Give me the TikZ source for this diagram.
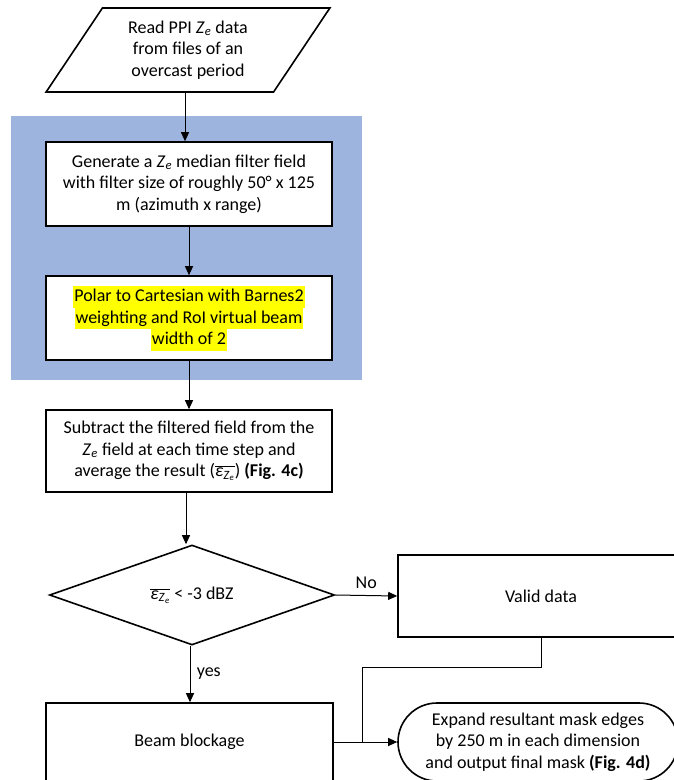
\documentclass[tikz,border=0pt]{standalone}
\usepackage{fontspec}
\setmainfont{Carlito}
\usetikzlibrary{shapes.geometric,shapes.misc,arrows.meta}
\definecolor{bandblue}{RGB}{157,180,223}
\definecolor{hly}{RGB}{255,255,0}
\newcommand{\Zsub}{\textit{Z}\textsubscript{\textit{e}}}
\newcommand{\epsbar}{$\overline{\mbox{\textit{ε}\textsubscript{\textit{Z}\textsubscript{\kern0pt\textit{e}}}}}$}
\begin{document}
\begin{tikzpicture}[x=1pt,y=-1pt,
  font=\fontsize{18}{21.5}\selectfont,
  box/.style={draw=black,line width=1.6pt,fill=white,minimum width=286pt,minimum height=84pt,align=center,inner sep=0pt},
  arr/.style={line width=1pt,-{Triangle[width=8pt,length=9pt]}},
  link/.style={line width=1pt},
  hlline/.style={fill=hly,inner xsep=1pt,inner ysep=0pt,text height=15.5pt,text depth=6pt}
]
\useasboundingbox (0,0) rectangle (674,780);
\clip (0,0) rectangle (674,780);
\node[fill=bandblue,minimum width=351pt,minimum height=264pt,inner sep=0pt] (band) at (186.5,248) {};
\node[trapezium,draw=black,line width=1.6pt,trapezium stretches=true,minimum width=284pt,minimum height=84pt,trapezium left angle=56,trapezium right angle=124,align=center,inner sep=0pt] (read) at (188,50) {Read PPI \Zsub{} data\\from files of an\\overcast period};
\node[box] (filt) at (189,184) {Generate a \Zsub{} median filter field\\with filter size of roughly 50° x 125\\m (azimuth x range)};
\node[box] (polar) at (189,318) {};
\node[hlline] (p1) at (189,297) {Polar to Cartesian with Barnes2};
\node[hlline] (p2) at (189,318.5) {weighting and RoI virtual beam};
\node[hlline] (p3) at (189,340) {width of 2};
\node[box,minimum height=82pt] (sub) at (189,451) {Subtract the filtered field from the\\\Zsub{} field at each time step and\\average the result (\epsbar) \textbf{(Fig. 4c)}};
\node[diamond,draw=black,line width=1.6pt,aspect=2.85,inner sep=0pt,minimum width=285pt,minimum height=100pt] (dec) at (192,595) {\epsbar{} < -3 dBZ};
\node[box,minimum height=82pt] (valid) at (541,596) {Valid data};
\node[box,minimum width=287pt,minimum height=78pt] (bb) at (189.5,742) {Beam blockage};
\node[rounded rectangle,draw=black,line width=1.6pt,minimum width=280pt,minimum height=78pt,align=center,inner sep=0pt] (term) at (538,742) {Expand resultant mask edges\\by 250 m in each dimension\\and output final mask \textbf{(Fig. 4d)}};
\draw[arr] (read.south -| 185,0) -- (filt.north -| 185,0);
\draw[arr] (filt) -- (polar);
\draw[arr] (polar.south) -- (polar.south |- sub.north);
\draw[arr] (sub.south -| 186,0) -- (dec.north -| 186,0);
\draw[arr] (dec.east) -- node[above=3pt] (nolab) {No} (valid.west);
\draw[arr] (dec.south -| 190,0) -- node[right=3pt] (yeslab) {yes} (bb.north -| 190,0);
\coordinate (j1) at (541,667);
\coordinate (j2) at (362,667);
\coordinate (j3) at (362,742);
\draw[link] (valid.south) -- (j1) -- (j2) -- (j3);
\draw[arr] (bb.east) -- (term.west);
\end{tikzpicture}
\end{document}
